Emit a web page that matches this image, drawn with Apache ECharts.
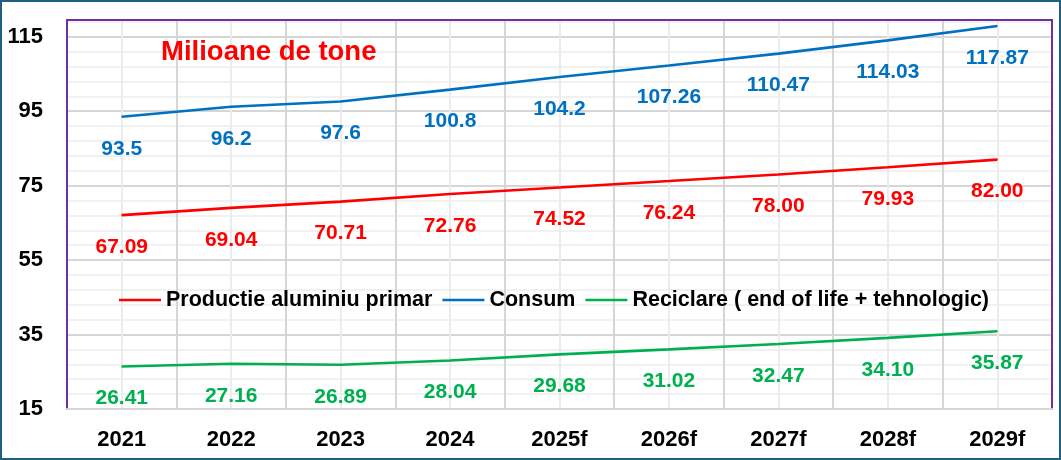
<!DOCTYPE html>
<html>
<head>
<meta charset="utf-8">
<script src="https://cdn.jsdelivr.net/npm/echarts@6/dist/echarts.min.js"></script>
<style>
html,body{margin:0;padding:0;background:#fff;}
#wrap{position:relative;width:1061px;height:460px;}
#chart{position:absolute;left:0;top:0;width:1061px;height:460px;}
#frame{position:absolute;left:0;top:0;width:1061px;height:460px;box-sizing:border-box;border:2.5px solid #1F5F80;pointer-events:none;}
</style>
</head>
<body>
<div id="wrap"><div id="chart"></div><div id="frame"></div></div>
<script>
const categories = ['2021','2022','2023','2024','2025f','2026f','2027f','2028f','2029f'];
const productie = [67.09, 69.04, 70.71, 72.76, 74.52, 76.24, 78.00, 79.93, 82.00];
const consum = [93.5, 96.2, 97.6, 100.8, 104.2, 107.26, 110.47, 114.03, 117.87];
const reciclare = [26.41, 27.16, 26.89, 28.04, 29.68, 31.02, 32.47, 34.10, 35.87];
const seriesNames = ['Productie aluminiu primar', 'Consum', 'Reciclare ( end of life + tehnologic)'];
const yMin = 15, yMax = 119.5, yLabelStep = 20, yMinorStep = 4;

const FONT = '"Liberation Sans", Arial, sans-serif';
const T = 'rgba(0,0,0,0)';
const MAJOR = '#d6d6d6', MINOR = '#ececec', FRAME = '#7030A0';
const majorColors = [], minorColors = [];
for (let i = 0; i < yLabelStep; i++) {
  majorColors.push(i === 0 ? MAJOR : T);
  minorColors.push(i !== 0 && i % yMinorStep === 0 ? MINOR : T);
}
// vertical grid: boundaries dark, centres light, outer edges left to the plot frame
const xGridColors = [];
for (let i = 0; i < categories.length * 2; i++) {
  xGridColors.push(i === 0 ? T : (i % 2 === 0 ? MAJOR : MINOR));
}

function mkSeries(name, data, color, fmt) {
  return {
    name: name, type: 'line', data: data, xAxisIndex: 0, yAxisIndex: 0,
    symbol: 'circle', symbolSize: 1, showSymbol: true,
    itemStyle: { color: color },
    lineStyle: { color: color, width: 2.6 },
    smooth: false,
    label: {
      show: true, position: 'bottom', distance: 21, color: color,
      fontFamily: FONT, fontWeight: 'bold', fontSize: 21,
      formatter: p => fmt(p.value)
    },
    labelLayout: { hideOverlap: false },
    emphasis: { disabled: true },
    z: 5
  };
}

const chart = echarts.init(document.getElementById('chart'));
chart.setOption({
  animation: false,
  backgroundColor: '#ffffff',
  title: {
    text: 'Milioane de tone', left: 156, top: 34,
    textStyle: { color: '#FF0000', fontFamily: FONT, fontWeight: 'bold', fontSize: 27.5, lineHeight: 27 }
  },
  legend: {
    left: 114, top: 284, itemWidth: 42, itemHeight: 14, itemGap: 10,
    icon: 'path://M0,6 L42,6 L42,8.6 L0,8.6 Z',
    textStyle: { color: '#000', fontFamily: FONT, fontWeight: 'bold', fontSize: 21.5 },
    data: seriesNames
  },
  grid: { left: 67, top: 20, right: 9, bottom: 51, show: false },
  xAxis: [
    {
      type: 'category', data: categories, boundaryGap: true,
      axisLine: { show: true, lineStyle: { color: MAJOR, width: 2 } },
      axisTick: { show: false }, splitLine: { show: false },
      axisLabel: { color: '#000', fontFamily: FONT, fontWeight: 'bold', fontSize: 22, margin: 20 }
    },
    {
      type: 'value', min: 0, max: categories.length * 2, interval: 1, position: 'top',
      axisLine: { show: true, onZero: false, lineStyle: { color: FRAME, width: 2 } },
      axisTick: { show: false }, axisLabel: { show: false },
      splitLine: { show: true, lineStyle: { color: xGridColors, width: 2 } }
    }
  ],
  yAxis: [
    {
      type: 'value', min: yMin, max: yMax, interval: 1, position: 'left',
      axisLine: { show: true, onZero: false, lineStyle: { color: FRAME, width: 2 } },
      axisTick: { show: false },
      axisLabel: {
        color: '#000', fontFamily: FONT, fontWeight: 'bold', fontSize: 22, margin: 24,
        formatter: v => ((v - yMin) % yLabelStep === 0 ? String(v) : '')
      },
      splitLine: { show: true, lineStyle: { color: majorColors, width: 2 } }
    },
    {
      type: 'value', min: yMin, max: yMax, interval: 1, position: 'right',
      axisLine: { show: true, onZero: false, lineStyle: { color: FRAME, width: 2 } },
      axisTick: { show: false }, axisLabel: { show: false },
      splitLine: { show: true, lineStyle: { color: minorColors, width: 1.5 } }
    }
  ],
  series: [
    mkSeries(seriesNames[0], productie, '#FF0000', v => v.toFixed(2)),
    mkSeries(seriesNames[1], consum, '#0070C0', v => String(v)),
    mkSeries(seriesNames[2], reciclare, '#00B050', v => v.toFixed(2))
  ]
});
</script>
</body>
</html>
